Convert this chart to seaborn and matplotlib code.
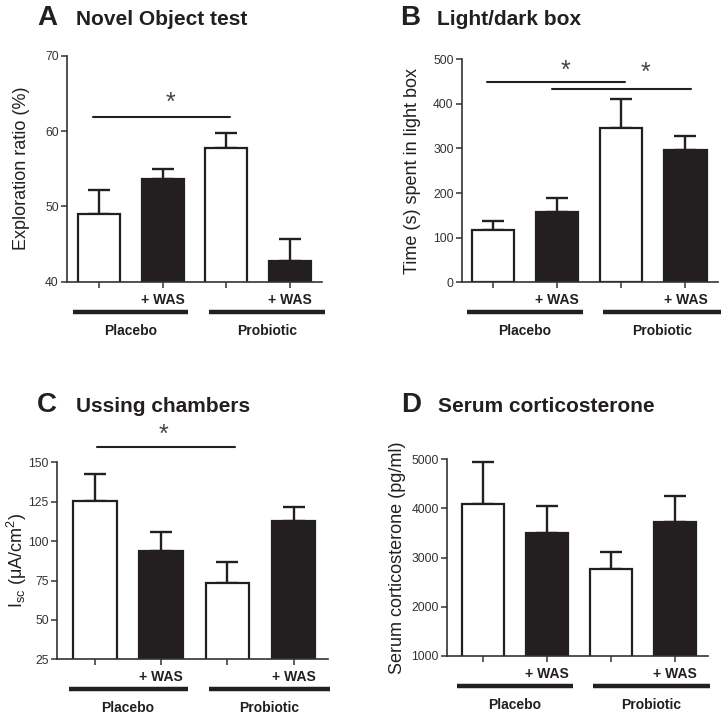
import matplotlib
matplotlib.use("Agg")
import matplotlib.pyplot as plt
from matplotlib.transforms import offset_copy
import numpy as np
import seaborn as sns

groups = ["Placebo", "Placebo + WAS", "Probiotic", "Probiotic + WAS"]
group_names = ["Placebo", "Probiotic"]
bar_colors = ["white", "#231f20", "white", "#231f20"]

novel_mean = [49.0, 53.6, 57.7, 42.8]
novel_sem = [3.2, 1.3, 2.1, 2.9]
light_mean = [117, 158, 345, 297]
light_sem = [20, 30, 67, 32]
ussing_mean = [125.6, 93.5, 73.2, 112.9]
ussing_sem = [17.0, 12.3, 13.3, 8.9]
cort_mean = [4090, 3500, 2770, 3720]
cort_sem = [845, 550, 340, 535]

INK = "#231f20"
AXIS = "#333333"
W, H = 721, 717

sns.set_theme(style="ticks")
plt.rcParams["font.family"] = ["Liberation Sans", "DejaVu Sans"]
plt.rcParams["mathtext.fontset"] = "custom"
plt.rcParams["mathtext.rm"] = "Liberation Sans"


def px_rect(left, top, right, bottom):
    # pixel box of the plotting area -> figure fraction
    return [left / W, 1 - bottom / H, (right - left) / W, (bottom - top) / H]


def panel(fig, box, means, sems, ylim, yticks, ylabel, label_dist, xlim,
          sig_lines=(), stars=()):
    ax = fig.add_axes(px_rect(*box))
    sns.barplot(x=groups, y=means, hue=groups, palette=bar_colors, saturation=1,
                edgecolor=INK, linewidth=1.6, width=0.66, legend=False, ax=ax, zorder=2)
    ax.errorbar(np.arange(len(groups)), means, yerr=[np.zeros(len(sems)), sems],
                fmt="none", ecolor=INK, elinewidth=1.7, capsize=8, capthick=1.7, zorder=1)

    ax.set_xlim(*xlim)
    ax.set_ylim(*ylim)
    ax.set_yticks(yticks)
    ax.set_xticks(range(len(groups)))
    ax.set_xticklabels([])
    ax.set_xlabel("")
    sns.despine(ax=ax)
    for side in ("left", "bottom"):
        ax.spines[side].set_linewidth(1.2)
        ax.spines[side].set_color(AXIS)
    ax.tick_params(axis="both", length=4, width=1.1, color=AXIS,
                   labelsize=8.7, labelcolor=AXIS, pad=2)

    ax.set_ylabel(ylabel, fontsize=13, color=INK, va="center")
    ax.yaxis.set_label_coords(-label_dist / (box[2] - box[0]), 0.5)

    # group annotation under the x axis
    base = ax.get_xaxis_transform()
    t_was = offset_copy(base, fig=fig, y=-18, units="dots")
    t_line = offset_copy(base, fig=fig, y=-30, units="dots")
    t_name = offset_copy(base, fig=fig, y=-49, units="dots")
    for i, g in enumerate(groups):
        if "WAS" in g:
            ax.text(i, 0, "+ WAS", transform=t_was, ha="center", va="center",
                    fontsize=10, fontweight="bold", color=INK)
    spans = [(-0.4, 1.4), (1.72, 3.55)]
    for (x0, x1), name in zip(spans, group_names):
        ax.plot([x0, x1], [0, 0], transform=t_line, color=INK, lw=3.2,
                solid_capstyle="butt", clip_on=False)
        ax.text((x0 + x1) / 2, 0, name, transform=t_name, ha="center", va="center",
                fontsize=10, fontweight="bold", color=INK)

    for x0, x1, y in sig_lines:
        ax.plot([x0, x1], [y, y], color=INK, lw=1.5, clip_on=False)
    for x, y in stars:
        ax.text(x, y, "*", ha="center", va="center", fontsize=18, color="#444444",
                clip_on=False)
    return ax


fig = plt.figure(figsize=(W / 100, H / 100), dpi=100)

panel(fig, (67, 55.7, 322, 281.7), novel_mean, novel_sem, (40, 70), [40, 50, 60, 70],
      "Exploration ratio (%)", 45, (-0.5, 3.5),
      sig_lines=[(-0.09, 2.06, 61.9)], stars=[(1.12, 63.8)])
panel(fig, (462, 59.3, 718, 282.3), light_mean, light_sem, (0, 500), range(0, 501, 100),
      "Time (s) spent in light box", 50, (-0.483, 3.507),
      sig_lines=[(-0.09, 2.05, 450), (0.92, 3.09, 433)],
      stars=[(1.13, 474), (2.37, 469)])
panel(fig, (57, 462.3, 328, 659.3), ussing_mean, ussing_sem, (25, 150), range(25, 151, 25),
      r"I$_\mathrm{sc}$ (μA/cm$^\mathrm{2}$)", 40, (-0.574, 3.52),
      sig_lines=[(0.03, 2.11, 159.5)], stars=[(1.03, 167.3)])
panel(fig, (447, 459.3, 708, 656), cort_mean, cort_sem, (1000, 5000), range(1000, 5001, 1000),
      "Serum corticosterone (pg/ml)", 49, (-0.5625, 3.516))

titles = [("A", "Novel Object test", 37, 76, 25),
          ("B", "Light/dark box", 400, 437, 25),
          ("C", "Ussing chambers", 37, 76, 412),
          ("D", "Serum corticosterone", 401, 438, 412)]
for letter, text, lx, tx, base_y in titles:
    fig.text(lx / W, 1 - base_y / H, letter, fontsize=20, fontweight="bold",
             color=INK, va="baseline")
    fig.text(tx / W, 1 - base_y / H, text, fontsize=15, fontweight="bold",
             color=INK, va="baseline")

fig.savefig("out.png", dpi=100)
